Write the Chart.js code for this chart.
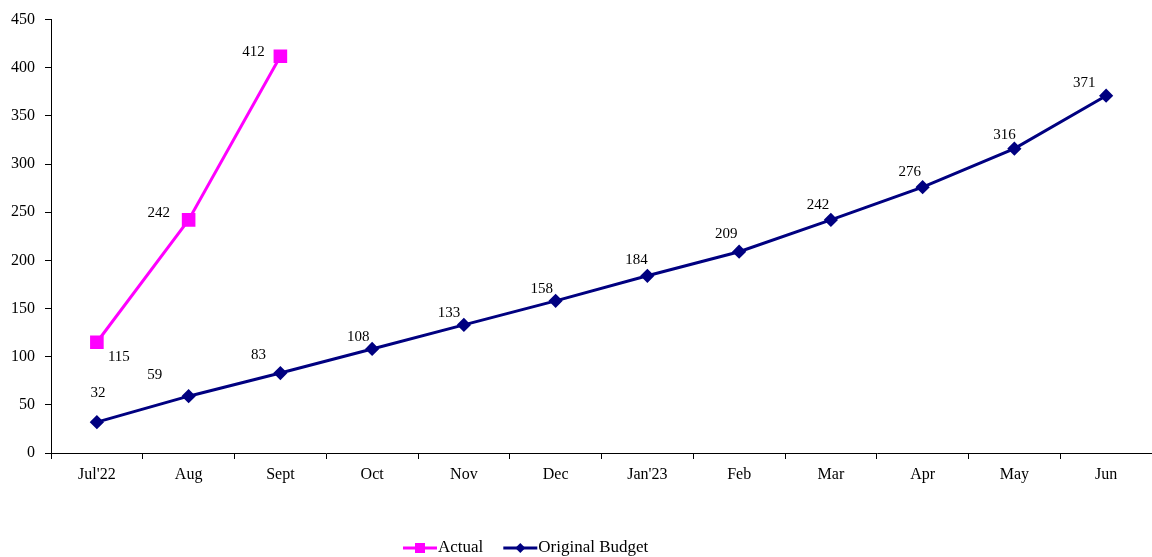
<!DOCTYPE html>
<html>
<head>
<meta charset="utf-8">
<script src="https://cdn.jsdelivr.net/npm/chart.js@4.4.0/dist/chart.umd.min.js"></script>
<style>
  html, body { margin: 0; padding: 0; background: #ffffff; }
  #wrap { width: 1152px; height: 557px; position: relative; }
</style>
</head>
<body>
<div id="wrap"><canvas id="c" width="1152" height="557"></canvas></div>
<script>
// Monthly cumulative figures
const months = ["Jul'22", "Aug", "Sept", "Oct", "Nov", "Dec", "Jan'23", "Feb", "Mar", "Apr", "May", "Jun"];
const actual = [115, 242, 412, null, null, null, null, null, null, null, null, null];
const originalBudget = [32, 59, 83, 108, 133, 158, 184, 209, 242, 276, 316, 371];
const yTicks = [0, 50, 100, 150, 200, 250, 300, 350, 400, 450];

// Where each value label sits relative to its point (dx, dy in px)
const labelOffsets = {
  0: [[22, 15], [-30, -7], [-27, -4]],
  1: [[1, -29], [-34, -21], [-22, -18], [-14, -12], [-15, -12], [-14, -12],
      [-11, -16], [-13, -18], [-13, -15], [-13, -15], [-10, -14], [-22, -13]]
};

const FONT = "'Liberation Serif', 'Times New Roman', serif";
const PINK = '#FF00FF';
const NAVY = '#000080';

function drawMarker(g, shape, x, y, color) {
  g.fillStyle = color;
  if (shape === 'square') {
    g.fillRect(x - 5, y - 5, 10, 10);
  } else {
    g.beginPath();
    g.moveTo(x, y - 5); g.lineTo(x + 5, y); g.lineTo(x, y + 5); g.lineTo(x - 5, y);
    g.closePath(); g.fill();
  }
}

const valueLabels = {
  id: 'valueLabels',
  afterDatasetsDraw(chart) {
    const ctx = chart.ctx;
    ctx.save();
    ctx.font = '15px ' + FONT;
    ctx.fillStyle = '#000';
    ctx.textAlign = 'center';
    ctx.textBaseline = 'middle';
    chart.data.datasets.forEach((ds, di) => {
      const meta = chart.getDatasetMeta(di);
      meta.data.forEach((pt, i) => {
        const v = ds.data[i];
        if (v === null || v === undefined) return;
        const off = (labelOffsets[di] && labelOffsets[di][i]) || [0, -14];
        ctx.fillText(String(v), pt.x + off[0], pt.y + off[1]);
      });
    });
    ctx.restore();
  }
};

// Legend row under the axis: line swatch with marker, then the series name
const bottomLegend = {
  id: 'bottomLegend',
  afterDraw(chart) {
    const ctx = chart.ctx;
    const y = 548;
    let x = 403;
    ctx.save();
    ctx.font = '17px ' + FONT;
    ctx.textBaseline = 'middle';
    ctx.textAlign = 'left';
    chart.data.datasets.forEach((ds, i) => {
      const shape = i === 0 ? 'square' : 'diamond';
      ctx.strokeStyle = ds.borderColor;
      ctx.lineWidth = 3;
      ctx.beginPath(); ctx.moveTo(x, y); ctx.lineTo(x + 34, y); ctx.stroke();
      drawMarker(ctx, shape, x + 17, y, ds.borderColor);
      ctx.fillStyle = '#000';
      ctx.fillText(ds.label, x + 35, y);
      x += 35 + ctx.measureText(ds.label).width + 20;
    });
    ctx.restore();
  }
};

new Chart(document.getElementById('c'), {
  type: 'line',
  data: {
    labels: months,
    datasets: [
      {
        label: 'Actual',
        data: actual,
        borderColor: PINK,
        backgroundColor: PINK,
        borderWidth: 3,
        pointStyle: 'rect',
        pointRadius: 7.5,
        pointHoverRadius: 7.5,
        tension: 0,
        spanGaps: false
      },
      {
        label: 'Original Budget',
        data: originalBudget,
        borderColor: NAVY,
        backgroundColor: NAVY,
        borderWidth: 3,
        pointStyle: 'rectRot',
        pointRadius: 5,
        pointHoverRadius: 5,
        tension: 0
      }
    ]
  },
  options: {
    responsive: false,
    animation: false,
    layout: { autoPadding: false, padding: { top: 19, right: 0, left: 0, bottom: 0 } },
    scales: {
      x: {
        offset: true,
        grid: { display: true, drawOnChartArea: false, drawTicks: true, tickLength: 6, offset: true, color: '#000' },
        border: { display: true, color: '#000', width: 1 },
        ticks: { color: '#000', font: { family: FONT, size: 16 }, padding: 6, maxRotation: 0, autoSkip: false },
        afterFit(scale) { scale.height = 104; }
      },
      y: {
        min: 0,
        max: 450,
        afterBuildTicks(scale) { scale.ticks = yTicks.map(v => ({ value: v })); },
        grid: { display: true, drawOnChartArea: false, drawTicks: true, tickLength: 6, color: '#000' },
        border: { display: true, color: '#000', width: 1 },
        ticks: { color: '#000', font: { family: FONT, size: 16 }, padding: 10 },
        afterFit(scale) { scale.width = 51; }
      }
    },
    plugins: {
      tooltip: { enabled: false },
      legend: { display: false }
    }
  },
  plugins: [valueLabels, bottomLegend]
});
</script>
</body>
</html>
